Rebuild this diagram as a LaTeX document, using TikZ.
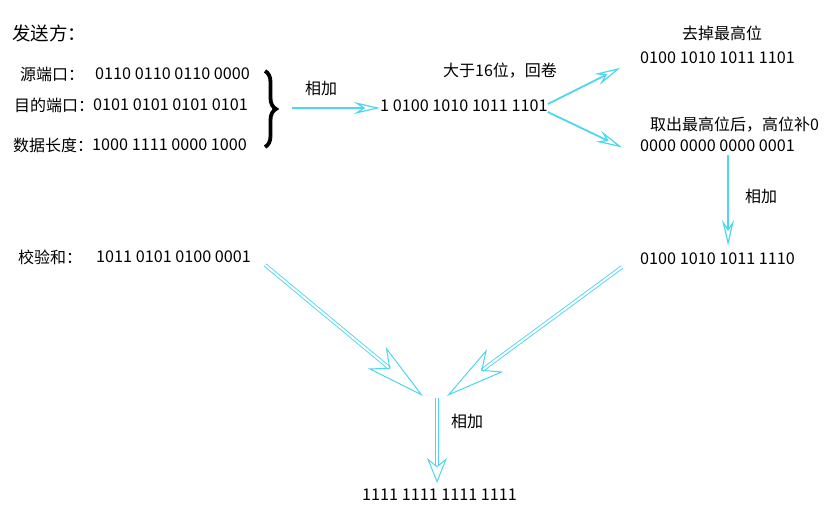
\documentclass[tikz,border=0pt]{standalone}
\usepackage{fontspec}
\setmainfont{Noto Sans CJK SC}
\usetikzlibrary{arrows.meta,decorations.pathreplacing}
\definecolor{sky}{HTML}{4DD6EE}
\tikzset{
  txt/.style={inner sep=0pt, anchor=west, font=\fontsize{16}{19}\selectfont},
  num/.style={inner sep=0pt, anchor=west, font=\fontsize{16.2}{19}\selectfont},
  arr/.style={sky, line width=1.8pt, -{Stealth[open, length=26pt, width=12pt, inset=9pt, line width=1.2pt]}},
  dbl/.style={sky, double=white, double distance=2pt, line width=0.9pt, -{Stealth[open, length=60pt, width=28pt, inset=16pt, line width=1pt]}},
  dblshort/.style={sky, double=white, double distance=1.6pt, line width=1pt, -{Stealth[open, length=25pt, width=20pt, inset=8pt, line width=1pt]}},
}
\begin{document}
\begin{tikzpicture}[x=1pt, y=-1pt]
  \useasboundingbox (0,0) rectangle (831,522);

  % nodes
  \node[txt, font=\fontsize{18.5}{22}\selectfont] (title) at (12,33) {发送方：};
  \node[txt] (srcl) at (20,74) {源端口：};
  \node[num] (src) at (95,74) {0110 0110 0110 0000};
  \node[txt] (dstl) at (14,105) {目的端口：};
  \node[num] (dst) at (93,105) {0101 0101 0101 0101};
  \node[txt] (lenl) at (13,145) {数据长度：};
  \node[num] (len) at (92,145) {1000 1111 0000 1000};
  \coordinate (btop) at (265,71);
  \coordinate (bbot) at (265,147);
  \coordinate (brc) at (292,108);
  \node[txt] (add1) at (305,88) {相加};
  \node[num] (sum) at (380,106) {1 0100 1010 1011 1101};
  \node[txt] (wrap) at (443,71) {大于16位，回卷};
  \node[txt] (dropl) at (682,33) {去掉最高位};
  \node[num] (drop) at (640,58) {0100 1010 1011 1101};
  \node[txt] (carryl) at (650,125) {取出最高位后，高位补0};
  \node[num] (carry) at (640,146) {0000 0000 0000 0001};
  \node[txt] (add2) at (745,196) {相加};
  \node[num] (fold) at (640,259) {0100 1010 1011 1110};
  \node[txt] (chkl) at (18,257) {校验和：};
  \node[num] (chk) at (96,257) {1011 0101 0100 0001};
  \coordinate (meet) at (437,396);
  \node[txt] (add3) at (451,421) {相加};
  \node[num] (res) at (362,495) {1111 1111 1111 1111};

  % brace
  \draw[decorate, decoration={brace, amplitude=11pt}, line width=3.8pt] (btop) -- (bbot);

  % arrows
  \draw[arr] (brc) -- (brc -| sum.west);
  \draw[arr, shorten >=22pt] ([yshift=2pt]sum.east) -- (drop.west);
  \draw[arr, shorten >=20pt] ([yshift=-6pt]sum.east) -- ([yshift=-10pt]carry.west);
  \draw[arr] ([xshift=10.5pt,yshift=-3pt]carry.south) -- ([xshift=10.5pt,yshift=7pt]carry.south |- fold.north);
  \draw[dbl] ([xshift=14pt,yshift=-8pt]chk.east) -- ([xshift=-14pt]meet);
  \draw[dbl] ([xshift=-18pt,yshift=-8pt]fold.west) -- ([xshift=10pt]meet);
  \draw[dblshort] ([yshift=-2pt]meet) -- ([yshift=6pt]meet |- res.north);
\end{tikzpicture}
\end{document}
